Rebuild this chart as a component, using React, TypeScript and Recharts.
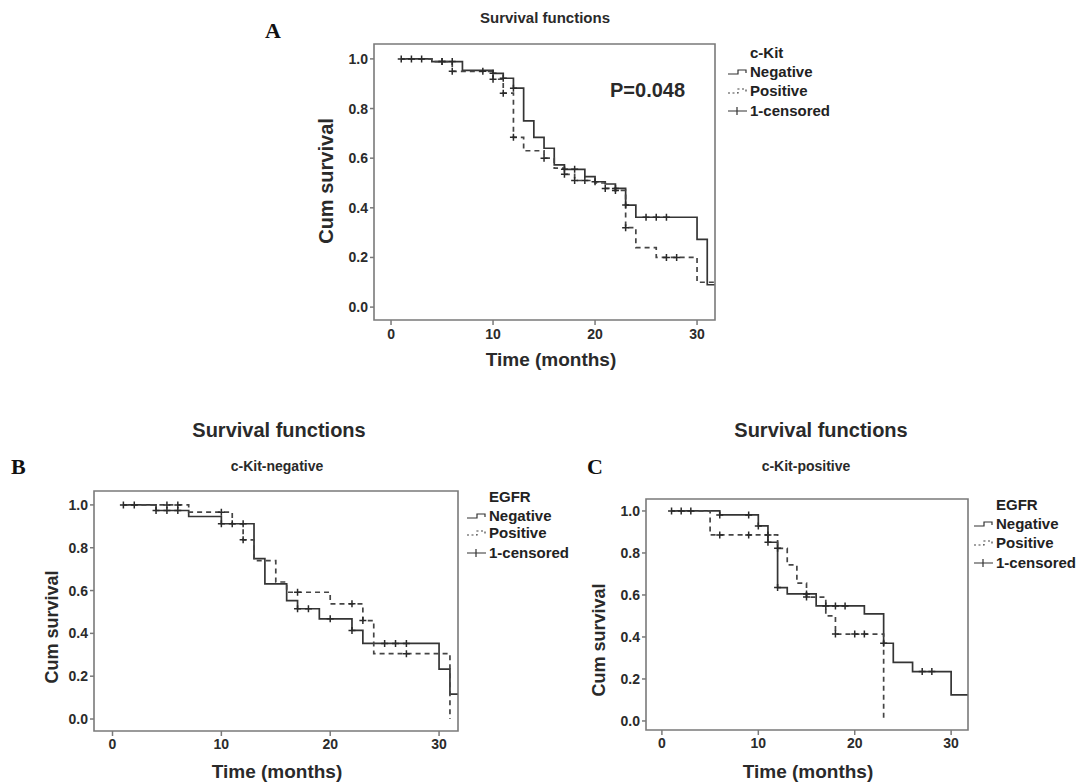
import React from 'react';
import { ComposedChart, Line, Scatter, XAxis, YAxis, ReferenceArea } from 'recharts';

const FONT = '"Liberation Sans", Arial, "DejaVu Sans", sans-serif';
const SERIF = '"Liberation Serif", "Times New Roman", serif';

// ---------- Panel A : c-Kit ----------
const negA_t = [1, 4, 7, 10, 11, 12, 13, 14, 15, 16, 17, 19, 20, 21, 22, 23, 24, 30, 31, 31.7];
const negA_s = [1.0, 0.989, 0.954, 0.942, 0.922, 0.882, 0.75, 0.684, 0.64, 0.573, 0.555, 0.526, 0.505, 0.496, 0.478, 0.411, 0.362, 0.273, 0.09, 0.09];
const negA_c = [1, 2, 3, 5, 6, 10, 11, 12, 17, 18, 20, 22, 23, 25, 26, 27];
const posA_t = [1, 4, 6, 10, 11, 12, 13, 15, 16, 17, 18, 20, 21, 22, 23, 24, 26, 30, 31.7];
const posA_s = [1.0, 0.989, 0.95, 0.918, 0.862, 0.684, 0.63, 0.6, 0.56, 0.535, 0.51, 0.5, 0.478, 0.47, 0.32, 0.24, 0.2, 0.1, 0.1];
const posA_c = [5, 6, 9, 10, 11, 12, 15, 17, 18, 19, 21, 22, 23, 27, 28];

// ---------- Panel B : c-Kit-negative, EGFR ----------
const negB_t = [1, 4, 7, 10, 13, 14, 16, 17, 19, 22, 23, 30, 31, 31.7];
const negB_s = [1.0, 0.974, 0.946, 0.912, 0.749, 0.631, 0.553, 0.515, 0.468, 0.414, 0.353, 0.233, 0.116, 0.116];
const negB_c = [1, 2, 4, 5, 6, 10, 11, 12, 17, 18, 20, 22, 25, 26, 27];
const posB_t = [1, 7, 11, 12, 13, 15, 16, 20, 23, 24, 31];
const posB_s = [1.0, 0.966, 0.912, 0.837, 0.74, 0.64, 0.592, 0.538, 0.46, 0.305, 0.0];
const posB_c = [5, 6, 10, 12, 17, 22, 23, 27];

// ---------- Panel C : c-Kit-positive, EGFR ----------
const negC_t = [1, 6, 10, 11, 12, 13, 16, 21, 23, 24, 26, 30, 31.7];
const negC_s = [1.0, 0.981, 0.929, 0.851, 0.635, 0.605, 0.548, 0.51, 0.37, 0.279, 0.235, 0.124, 0.124];
const negC_c = [1, 2, 3, 6, 9, 10, 11, 12, 15, 17, 18, 19, 23, 27, 28];
const posC_t = [1, 5, 12, 13, 14, 15, 17, 18, 23];
const posC_s = [1.0, 0.886, 0.822, 0.743, 0.656, 0.59, 0.5, 0.414, 0.0];
const posC_c = [6, 9, 11, 12, 15, 18, 20, 21];

const xTicks = [0, 10, 20, 30];
const yTicks = [0, 0.2, 0.4, 0.6, 0.8, 1.0];

type Pt = { t: number; s: number };
const toCurve = (ts: number[], ss: number[]): Pt[] => ts.map((t, i) => ({ t, s: ss[i] }));
const survAt = (ts: number[], ss: number[], t: number) => {
  let v = ss[0];
  for (let i = 0; i < ts.length; i++) if (ts[i] <= t) v = ss[i];
  return v;
};
const toCens = (ts: number[], ss: number[], cs: number[]): Pt[] => cs.map((t) => ({ t, s: survAt(ts, ss, t) }));

const LINE = '#353535';
const FRAME = '#7a7a7a';

const Cross = (p: any) => {
  const { cx, cy } = p;
  if (cx == null || cy == null) return <g />;
  return <path d={`M${cx - 3.5},${cy}h7M${cx},${cy - 3.5}v7`} stroke="#2a2a2a" strokeWidth={1.5} fill="none" />;
};

type PanelProps = {
  L: number; T: number; R: number; B: number;
  xd: [number, number]; yd: [number, number];
  neg: Pt[]; pos: Pt[]; cens: Pt[];
  xTickGap: number;
};

function Panel({ L, T, R, B, xd, yd, neg, pos, cens, xTickGap }: PanelProps) {
  const yw = 40, xh = 30, mt = 4, mr = 4;
  const w = R - L + yw + mr;
  const h = B - T + mt + xh;
  const tickStyle = { fontSize: 14, fontWeight: 700, fill: '#2b2b2b', fontFamily: FONT };
  return (
    <div style={{ position: 'absolute', left: L - yw, top: T - mt, width: w, height: h }}>
      <ComposedChart width={w} height={h} margin={{ top: mt, right: mr, left: 0, bottom: 0 }}>
        <XAxis
          type="number" dataKey="t" domain={xd} allowDataOverflow ticks={xTicks} interval={0}
          height={xh} axisLine={false} tickSize={5} tickMargin={xTickGap}
          tickLine={{ stroke: FRAME, strokeWidth: 1.5 }} tick={tickStyle}
        />
        <YAxis
          type="number" dataKey="s" domain={yd} allowDataOverflow ticks={yTicks} interval={0}
          width={yw} axisLine={false} tickSize={4} tickMargin={2}
          tickFormatter={(v: number) => v.toFixed(1)}
          tickLine={{ stroke: FRAME, strokeWidth: 1.5 }} tick={tickStyle}
        />
        <ReferenceArea x1={xd[0]} x2={xd[1]} y1={yd[0]} y2={yd[1]} fill="none" fillOpacity={0} stroke={FRAME} strokeWidth={1.6} />
        <Line data={neg} dataKey="s" type="stepAfter" stroke={LINE} strokeWidth={1.7} dot={false} isAnimationActive={false} />
        <Line data={pos} dataKey="s" type="stepAfter" stroke="#454545" strokeWidth={1.7} strokeDasharray="5 4" dot={false} isAnimationActive={false} />
        <Scatter data={cens} dataKey="s" shape={Cross} isAnimationActive={false} />
      </ComposedChart>
    </div>
  );
}

function LegendBlock({ x, title, rows, fs }: { x: number; title: string; rows: number[]; fs: number }) {
  // rows: baselines for title, negative, positive, censored
  const sx = x - 22;
  return (
    <g fontFamily={FONT} fontWeight={700} fontSize={fs} fill="#222">
      <text x={x} y={rows[0]}>{title}</text>
      <path d={`M${sx},${rows[1] - 3} h10 v-4 h8 v3`} stroke="#333" strokeWidth={1.2} fill="none" />
      <text x={x} y={rows[1]}>Negative</text>
      <path d={`M${sx},${rows[2] - 3} h10 v-4 h8 v3`} stroke="#444" strokeWidth={1.2} strokeDasharray="2 2.5" fill="none" />
      <text x={x} y={rows[2]}>Positive</text>
      <path d={`M${sx},${rows[3] - 5} h19 M${sx + 9},${rows[3] - 9} v8`} stroke="#333" strokeWidth={1.2} fill="none" />
      <text x={x} y={rows[3]}>1-censored</text>
    </g>
  );
}

const titleA = 'Survival functions';
const subB = 'c-Kit-negative';
const subC = 'c-Kit-positive';

export default function App() {
  const negA = toCurve(negA_t, negA_s), posA = toCurve(posA_t, posA_s);
  const censA = [...toCens(negA_t, negA_s, negA_c), ...toCens(posA_t, posA_s, posA_c)];
  const negB = toCurve(negB_t, negB_s), posB = toCurve(posB_t, posB_s);
  const censB = [...toCens(negB_t, negB_s, negB_c), ...toCens(posB_t, posB_s, posB_c)];
  const negC = toCurve(negC_t, negC_s), posC = toCurve(posC_t, posC_s);
  const censC = [...toCens(negC_t, negC_s, negC_c), ...toCens(posC_t, posC_s, posC_c)];

  return (
    <div style={{ position: 'absolute', left: 0, top: 0, width: 1083, height: 784, background: '#fff', overflow: 'hidden' }}>
      <Panel L={374} T={44} R={715} B={320} xd={[-1.67, 31.76]} yd={[-0.052, 1.06]} neg={negA} pos={posA} cens={censA} xTickGap={4} />
      <Panel L={94} T={491} R={458} B={731} xd={[-1.7, 31.74]} yd={[-0.056, 1.065]} neg={negB} pos={posB} cens={censB} xTickGap={3} />
      <Panel L={646} T={499} R={968} B={730} xd={[-1.65, 31.75]} yd={[-0.043, 1.057]} neg={negC} pos={posC} cens={censC} xTickGap={3} />
      <svg width={1083} height={784} style={{ position: 'absolute', left: 0, top: 0, pointerEvents: 'none' }}>
        <g fontFamily={SERIF} fontWeight={700} fontSize={22} fill="#111">
          <text x={265} y={38}>A</text>
          <text x={11} y={474}>B</text>
          <text x={587} y={474}>C</text>
        </g>
        <g fontFamily={FONT} fontWeight={700} fill="#2a2a2a" textAnchor="middle">
          <text x={545} y={23} fontSize={15}>{titleA}</text>
          <text x={279} y={437} fontSize={20}>{titleA}</text>
          <text x={277} y={471} fontSize={14}>{subB}</text>
          <text x={821} y={437} fontSize={20}>{titleA}</text>
          <text x={806} y={471} fontSize={14}>{subC}</text>
        </g>
        <g fontFamily={FONT} fontWeight={700} fill="#2a2a2a" textAnchor="middle">
          <text x={551} y={366} fontSize={19}>Time (months)</text>
          <text x={277} y={778} fontSize={19}>Time (months)</text>
          <text x={808} y={778} fontSize={19}>Time (months)</text>
          <text transform="translate(333,181) rotate(-90)" fontSize={20}>Cum survival</text>
          <text transform="translate(58,627) rotate(-90)" fontSize={18}>Cum survival</text>
          <text transform="translate(605,640) rotate(-90)" fontSize={18}>Cum survival</text>
        </g>
        <g fontFamily={FONT} fontWeight={700} fontSize={20} fill="#2a2a2a">
          <text x={610} y={97}>P=0.048</text>
        </g>
        <LegendBlock x={750} title="c-Kit" rows={[58, 77, 96, 116]} fs={15} />
        <LegendBlock x={489} title="EGFR" rows={[502, 521, 538, 558]} fs={15} />
        <LegendBlock x={996} title="EGFR" rows={[510, 529, 548, 568]} fs={15} />
      </svg>
    </div>
  );
}
